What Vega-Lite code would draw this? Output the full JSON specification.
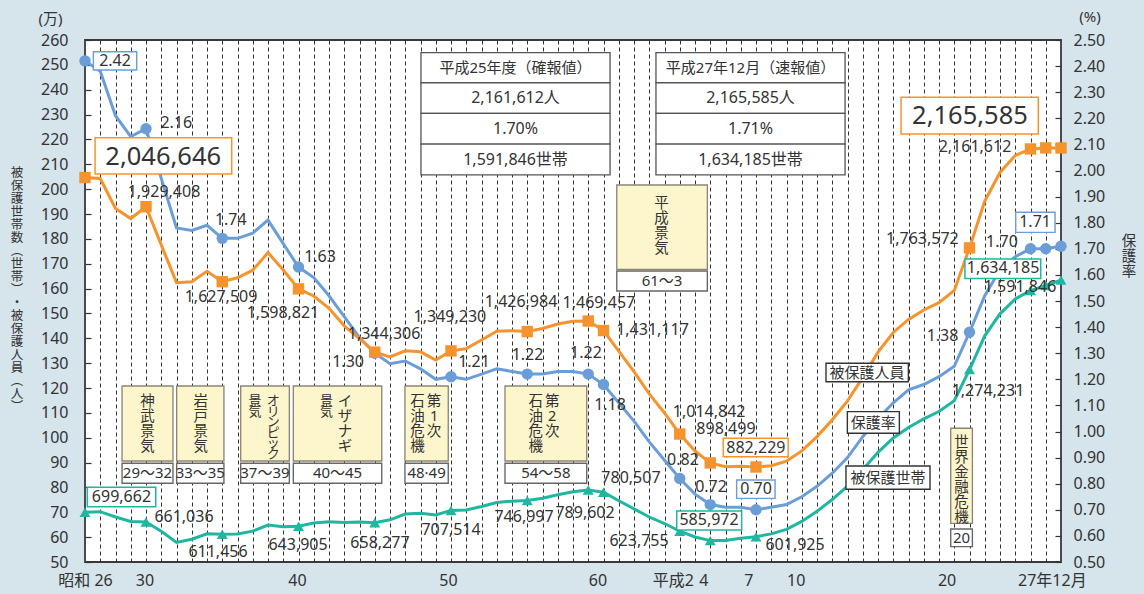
{
  "$schema": "https://vega.github.io/schema/vega-lite/v6.json",
  "width": 976,
  "height": 522,
  "autosize": {"type": "none"},
  "padding": {"left": 85, "top": 40, "right": 83, "bottom": 32},
  "background": "#d6e4ec",
  "config": {
    "font": "Noto Sans, Noto Sans CJK JP",
    "view": {"stroke": "#3a3a3a", "strokeWidth": 1.8, "fill": "#ffffff"},
    "axis": {"labelOverlap": false, "labelFlush": false, "labelBound": false},
    "axisY": {"labelOverlap": false},
    "axisLeft": {"labelOverlap": false},
    "text": {"color": "#333333", "font": "Noto Sans, Noto Sans CJK JP"}
  },
  "datasets": {
    "series": [
      {"year":1951,"persons":204.66,"rate":2.42,"households":69.97},
      {"year":1952,"persons":204.26,"rate":2.38,"households":70.25},
      {"year":1953,"persons":192.21,"rate":2.21,"households":68.09},
      {"year":1954,"persons":188.17,"rate":2.13,"households":66.28},
      {"year":1955,"persons":192.94,"rate":2.16,"households":66.10},
      {"year":1956,"persons":177.60,"rate":1.97,"households":62.35},
      {"year":1957,"persons":162.37,"rate":1.78,"households":57.90},
      {"year":1958,"persons":162.76,"rate":1.77,"households":59.14},
      {"year":1959,"persons":166.92,"rate":1.79,"households":61.35},
      {"year":1960,"persons":162.75,"rate":1.74,"households":61.15},
      {"year":1961,"persons":164.34,"rate":1.74,"households":61.27},
      {"year":1962,"persons":167.40,"rate":1.76,"households":62.40},
      {"year":1963,"persons":174.46,"rate":1.81,"households":64.87},
      {"year":1964,"persons":167.47,"rate":1.72,"households":64.19},
      {"year":1965,"persons":159.88,"rate":1.63,"households":64.39},
      {"year":1966,"persons":157.01,"rate":1.59,"households":65.72},
      {"year":1967,"persons":152.07,"rate":1.52,"households":66.16},
      {"year":1968,"persons":145.00,"rate":1.44,"households":65.91},
      {"year":1969,"persons":139.87,"rate":1.36,"households":66.05},
      {"year":1970,"persons":134.43,"rate":1.30,"households":65.83},
      {"year":1971,"persons":132.52,"rate":1.26,"households":66.97},
      {"year":1972,"persons":134.98,"rate":1.27,"households":69.27},
      {"year":1973,"persons":134.55,"rate":1.24,"households":69.65},
      {"year":1974,"persons":131.23,"rate":1.20,"households":68.90},
      {"year":1975,"persons":134.92,"rate":1.21,"households":70.75},
      {"year":1976,"persons":135.83,"rate":1.20,"households":70.96},
      {"year":1977,"persons":139.31,"rate":1.22,"households":72.36},
      {"year":1978,"persons":142.83,"rate":1.24,"households":73.92},
      {"year":1979,"persons":143.05,"rate":1.23,"households":74.48},
      {"year":1980,"persons":142.70,"rate":1.22,"households":74.70},
      {"year":1981,"persons":143.92,"rate":1.22,"households":75.67},
      {"year":1982,"persons":145.74,"rate":1.23,"households":77.04},
      {"year":1983,"persons":146.82,"rate":1.23,"households":78.23},
      {"year":1984,"persons":146.95,"rate":1.22,"households":78.96},
      {"year":1985,"persons":143.11,"rate":1.18,"households":78.05},
      {"year":1986,"persons":134.82,"rate":1.11,"households":74.64},
      {"year":1987,"persons":126.61,"rate":1.04,"households":71.38},
      {"year":1988,"persons":117.63,"rate":0.96,"households":68.10},
      {"year":1989,"persons":109.95,"rate":0.89,"households":65.49},
      {"year":1990,"persons":101.48,"rate":0.82,"households":62.38},
      {"year":1991,"persons":94.64,"rate":0.76,"households":60.07},
      {"year":1992,"persons":89.85,"rate":0.72,"households":58.60},
      {"year":1993,"persons":88.31,"rate":0.71,"households":58.61},
      {"year":1994,"persons":88.49,"rate":0.71,"households":59.54},
      {"year":1995,"persons":88.22,"rate":0.70,"households":60.19},
      {"year":1996,"persons":88.75,"rate":0.71,"households":61.31},
      {"year":1997,"persons":90.56,"rate":0.72,"households":63.15},
      {"year":1998,"persons":94.70,"rate":0.75,"households":66.31},
      {"year":1999,"persons":100.45,"rate":0.79,"households":70.41},
      {"year":2000,"persons":107.22,"rate":0.84,"households":75.13},
      {"year":2001,"persons":114.81,"rate":0.90,"households":80.52},
      {"year":2002,"persons":124.27,"rate":0.98,"households":87.09},
      {"year":2003,"persons":134.43,"rate":1.05,"households":94.13},
      {"year":2004,"persons":142.34,"rate":1.11,"households":99.89},
      {"year":2005,"persons":147.58,"rate":1.16,"households":104.15},
      {"year":2006,"persons":151.39,"rate":1.18,"households":107.58},
      {"year":2007,"persons":154.33,"rate":1.21,"households":110.53},
      {"year":2008,"persons":159.26,"rate":1.25,"households":114.88},
      {"year":2009,"persons":176.36,"rate":1.38,"households":127.42},
      {"year":2010,"persons":195.21,"rate":1.52,"households":141.00},
      {"year":2011,"persons":206.72,"rate":1.62,"households":149.84},
      {"year":2012,"persons":213.57,"rate":1.67,"households":155.85},
      {"year":2013,"persons":216.16,"rate":1.70,"households":159.18},
      {"year":2014,"persons":216.59,"rate":1.70,"households":161.23},
      {"year":2015,"persons":216.56,"rate":1.71,"households":163.42}
    ],
    "boxes": [
      {"x":1951.55,"x2":1954.39,"v":247.9,"v2":255.3,"kind":"rate"},
      {"x":1993.73,"x2":1996.25,"v":75.6,"v2":83.0,"kind":"rate"},
      {"x":2012.03,"x2":2014.61,"v":182.6,"v2":190.7,"kind":"rate"},
      {"x":1951.66,"x2":1960.62,"v":206.1,"v2":220.7,"kind":"persons"},
      {"x":1992.85,"x2":1997.11,"v":92.36,"v2":99.77,"kind":"persons"},
      {"x":2004.51,"x2":2013.51,"v":222.2,"v2":236.95,"kind":"persons"},
      {"x":1951.15,"x2":1955.64,"v":72.25,"v2":80.05,"kind":"households"},
      {"x":1989.8,"x2":1994.06,"v":62.9,"v2":70.5,"kind":"households"},
      {"x":2008.7,"x2":2013.67,"v":164.1,"v2":171.9,"kind":"households"},
      {"x":1999.59,"x2":2004.99,"v":122.53,"v2":129.93,"kind":"legend"},
      {"x":2000.99,"x2":2004.4,"v":101.8,"v2":110.5,"kind":"legend"},
      {"x":2000.9,"x2":2006.41,"v":79.25,"v2":88.6,"kind":"legend"},
      {"x":1953.43,"x2":1956.77,"v":90.63,"v2":120.8,"kind":"boom"},
      {"x":1957.01,"x2":1960.11,"v":90.63,"v2":120.8,"kind":"boom"},
      {"x":1961.21,"x2":1964.40,"v":90.63,"v2":120.8,"kind":"boom"},
      {"x":1964.66,"x2":1970.46,"v":90.63,"v2":120.8,"kind":"boom"},
      {"x":1971.98,"x2":1974.82,"v":90.63,"v2":120.8,"kind":"boom"},
      {"x":1978.54,"x2":1983.90,"v":90.63,"v2":120.8,"kind":"boom"},
      {"x":1985.87,"x2":1991.81,"v":167.75,"v2":201.67,"kind":"boom"},
      {"x":2007.77,"x2":2009.19,"v":65.57,"v2":103.8,"kind":"boom"},
      {"x":1953.43,"x2":1956.77,"v":81.66,"v2":89.71,"kind":"period"},
      {"x":1957.01,"x2":1960.11,"v":81.66,"v2":89.71,"kind":"period"},
      {"x":1961.21,"x2":1964.40,"v":81.66,"v2":89.71,"kind":"period"},
      {"x":1964.66,"x2":1970.46,"v":81.66,"v2":89.71,"kind":"period"},
      {"x":1971.98,"x2":1974.82,"v":81.66,"v2":89.71,"kind":"period"},
      {"x":1978.54,"x2":1983.90,"v":81.66,"v2":89.71,"kind":"period"},
      {"x":1985.87,"x2":1991.81,"v":159.02,"v2":167.07,"kind":"period"},
      {"x":2007.77,"x2":2009.19,"v":56.16,"v2":63.28,"kind":"period"},
      {"x":1973.03,"x2":1985.43,"v":242.8,"v2":254.9,"kind":"table"},
      {"x":1973.03,"x2":1985.43,"v":230.5,"v2":242.8,"kind":"table"},
      {"x":1973.03,"x2":1985.43,"v":218.15,"v2":230.5,"kind":"table"},
      {"x":1973.03,"x2":1985.43,"v":205.7,"v2":218.15,"kind":"table"},
      {"x":1988.44,"x2":2000.84,"v":242.8,"v2":254.9,"kind":"table"},
      {"x":1988.44,"x2":2000.84,"v":230.5,"v2":242.8,"kind":"table"},
      {"x":1988.44,"x2":2000.84,"v":218.15,"v2":230.5,"kind":"table"},
      {"x":1988.44,"x2":2000.84,"v":205.7,"v2":218.15,"kind":"table"}
    ],
    "lab16": [
      {"x":1952.97,"v":251.55,"t":"2.42"},
      {"x":1956.99,"v":226.7,"t":"2.16"},
      {"x":1960.56,"v":187.6,"t":"1.74"},
      {"x":1966.41,"v":172.8,"t":"1.63"},
      {"x":1968.25,"v":130.6,"t":"1.30"},
      {"x":1976.51,"v":130.46,"t":"1.21"},
      {"x":1980.02,"v":133.3,"t":"1.22"},
      {"x":1983.85,"v":134.1,"t":"1.22"},
      {"x":1985.43,"v":113.2,"t":"1.18"},
      {"x":1990.21,"v":91.0,"t":"0.82"},
      {"x":1992.05,"v":80.2,"t":"0.72"},
      {"x":1995.0,"v":79.4,"t":"0.70"},
      {"x":2007.23,"v":140.9,"t":"1.38"},
      {"x":2011.13,"v":178.7,"t":"1.70"},
      {"x":2013.3,"v":186.8,"t":"1.71"},
      {"x":1956.18,"v":199.0,"t":"1,929,408"},
      {"x":1959.92,"v":156.6,"t":"1,627,509"},
      {"x":1963.98,"v":150.2,"t":"1,598,821"},
      {"x":1970.61,"v":141.7,"t":"1,344,306"},
      {"x":1974.93,"v":148.6,"t":"1,349,230"},
      {"x":1979.59,"v":154.6,"t":"1,426,984"},
      {"x":1984.7,"v":154.2,"t":"1,469,457"},
      {"x":1988.21,"v":143.3,"t":"1,431,117"},
      {"x":1991.93,"v":110.45,"t":"1,014,842"},
      {"x":1993.03,"v":103.5,"t":"898,499"},
      {"x":1994.99,"v":96.06,"t":"882,229"},
      {"x":2005.91,"v":180.0,"t":"1,763,572"},
      {"x":2009.36,"v":217.0,"t":"2,161,612"},
      {"x":1953.39,"v":76.15,"t":"699,662"},
      {"x":1957.49,"v":68.1,"t":"661,036"},
      {"x":1959.72,"v":54.0,"t":"611,456"},
      {"x":1964.97,"v":56.8,"t":"643,905"},
      {"x":1970.34,"v":57.6,"t":"658,277"},
      {"x":1975.0,"v":62.9,"t":"707,514"},
      {"x":1979.79,"v":68.1,"t":"746,997"},
      {"x":1983.79,"v":69.7,"t":"789,602"},
      {"x":1986.8,"v":83.8,"t":"780,507"},
      {"x":1987.33,"v":58.45,"t":"623,755"},
      {"x":1991.92,"v":66.7,"t":"585,972"},
      {"x":1997.56,"v":56.8,"t":"601,925"},
      {"x":2010.21,"v":118.8,"t":"1,274,231"},
      {"x":2012.31,"v":160.6,"t":"1,591,846"},
      {"x":2011.2,"v":168.1,"t":"1,634,185"},
      {"x":1979.23,"v":236.67,"t":"2,161,612人"},
      {"x":1979.23,"v":224.3,"t":"1.70%"},
      {"x":1979.23,"v":211.9,"t":"1,591,846世帯"},
      {"x":1994.64,"v":236.67,"t":"2,165,585人"},
      {"x":1994.64,"v":224.3,"t":"1.71%"},
      {"x":1994.64,"v":211.9,"t":"1,634,185世帯"}
    ],
    "lab15": [
      {"x":1979.23,"v":248.85,"t":"平成25年度（確報値）"},
      {"x":1994.64,"v":248.85,"t":"平成27年12月（速報値）"},
      {"x":2002.28,"v":126.2,"t":"被保護人員"},
      {"x":2002.69,"v":106.1,"t":"保護率"},
      {"x":2003.66,"v":83.9,"t":"被保護世帯"},
      {"x":1955.1,"v":85.69,"t":"29〜32"},
      {"x":1958.56,"v":85.69,"t":"33〜35"},
      {"x":1962.8,"v":85.69,"t":"37〜39"},
      {"x":1967.56,"v":85.69,"t":"40〜45"},
      {"x":1973.4,"v":85.69,"t":"48·49"},
      {"x":1981.22,"v":85.69,"t":"54〜58"},
      {"x":1988.84,"v":163.05,"t":"61〜3"},
      {"x":2008.48,"v":59.72,"t":"20"},
      {"x":1948.74,"v":268.45,"t":"(万)"},
      {"x":2016.9,"v":269.25,"t":"(%)"}
    ],
    "big": [
      {"x":1956.13,"v":213.1,"t":"2,046,646"},
      {"x":2009.03,"v":229.4,"t":"2,165,585"}
    ],
    "vertA": [
      {"x":1955.1,"v":114.5,"t":"神\n武\n景\n気"},
      {"x":1958.59,"v":114.5,"t":"岩\n戸\n景\n気"},
      {"x":1968.05,"v":114.4,"t":"イ\nザ\nナ\nギ"},
      {"x":1972.80,"v":114.5,"t":"石\n油\n危\n機"},
      {"x":1973.89,"v":114.5,"t":"第\n1\n次"},
      {"x":1980.55,"v":114.5,"t":"石\n油\n危\n機"},
      {"x":1981.64,"v":114.5,"t":"第\n2\n次"},
      {"x":1988.81,"v":194.0,"t":"平\n成\n景\n気"},
      {"x":2008.47,"v":97.9,"t":"世\n界\n金\n融\n危\n機"},
      {"x":2019.46,"v":178.9,"t":"保\n護\n率"}
    ],
    "vertB": [
      {"x":1963.35,"v":114.57,"t":"オ\nリ\nン\nピ\nッ\nク"},
      {"x":1962.15,"v":114.77,"t":"景\n気"},
      {"x":1966.84,"v":114.77,"t":"景\n気"}
    ],
    "vertC": [
      {"x":1946.54,"v":206.5,"t":"被\n保\n護\n世\n帯\n数\n︵\n世\n帯\n︶\n・\n被\n保\n護\n人\n員\n︵\n人\n︶"}
    ]
  },
  "layer": [
    {
      "data": {"name": "series"},
      "encoding": {
        "x": {"field": "year", "type": "quantitative", "title": null,
          "scale": {"domain": [1951, 2015], "nice": false, "zero": false},
          "axis": {"orient": "top", "values": [1952,1953,1954,1955,1956,1957,1958,1959,1960,1961,1962,1963,1964,1965,1966,1967,1968,1969,1970,1971,1972,1973,1974,1975,1976,1977,1978,1979,1980,1981,1982,1983,1984,1985,1986,1987,1988,1989,1990,1991,1992,1993,1994,1995,1996,1997,1998,1999,2000,2001,2002,2003,2004,2005,2006,2007,2008,2009,2010,2011,2012,2013,2014],
            "grid": true, "gridDash": [4, 3], "gridColor": "#333333", "gridWidth": 1, "gridOpacity": 1,
            "labels": false, "ticks": false, "domain": false}},
        "y": {"field": "rate", "type": "quantitative", "title": null,
          "scale": {"domain": [0.5, 2.5], "nice": false, "zero": false},
          "axis": {"orient": "right", "values": [0.5,0.6,0.7,0.8,0.9,1.0,1.1,1.2,1.3,1.4,1.5,1.6,1.7,1.8,1.9,2.0,2.1,2.2,2.3,2.4,2.5],
            "format": ".2f", "grid": false, "domain": false, "ticks": true, "tickSize": -6, "tickColor": "#333333", "tickWidth": 1.2,
            "labelOverlap": false, "labelFlush": false, "labelBound": false,
            "labelFontSize": 16, "labelColor": "#333333", "labelPadding": 18, "labelFont": "Noto Sans"}}
      },
      "layer": [
        {"mark": {"type": "line", "color": "#6b9ed8", "strokeWidth": 3}},
        {"transform": [{"filter": {"field": "year", "oneOf": [1951,1955,1960,1965,1970,1975,1980,1984,1985,1990,1992,1995,2009,2013,2014,2015]}}],
         "mark": {"type": "point", "shape": "circle", "filled": true, "opacity": 1, "size": 130, "color": "#6b9ed8"}}
      ]
    },
    {
      "encoding": {
        "y": {"field": "persons", "type": "quantitative", "title": null,
          "scale": {"domain": [50, 260], "nice": false, "zero": false},
          "axis": {"orient": "left", "values": [50,60,70,80,90,100,110,120,130,140,150,160,170,180,190,200,210,220,230,240,250,260],
            "grid": false, "domain": false, "ticks": true, "tickSize": -6, "tickColor": "#333333", "tickWidth": 1.2,
            "labelOverlap": false, "labelFlush": false, "labelBound": false,
            "labelFontSize": 16, "labelColor": "#333333", "labelPadding": 23, "labelFont": "Noto Sans"}}
      },
      "layer": [
        {
          "data": {"name": "series"},
          "encoding": {
            "x": {"field": "year", "type": "quantitative", "title": null,
              "scale": {"domain": [1951, 2015], "nice": false, "zero": false},
              "axis": {"orient": "bottom", "values": [1951, 1954.9, 1964.9, 1974.8, 1984.6, 1989.55, 1991.55, 1994.5, 1997.6, 2007.5, 2014.4],
                "labelExpr": "datum.value < 1952 ? '昭和 26' : datum.value < 1960 ? '30' : datum.value < 1970 ? '40' : datum.value < 1980 ? '50' : datum.value < 1987 ? '60' : datum.value < 1991 ? '平成2' : datum.value < 1993 ? '4' : datum.value < 1996 ? '7' : datum.value < 2000 ? '10' : datum.value < 2010 ? '20' : '27年12月'",
                "grid": false, "ticks": false, "domain": false, "labelPadding": 10, "labelFontSize": 16, "labelColor": "#333333",
                "labelOverlap": false, "labelFlush": false, "labelBound": false}}
          },
          "layer": [
            {"mark": {"type": "line", "color": "#f7932d", "strokeWidth": 3}},
            {"transform": [{"filter": {"field": "year", "oneOf": [1951,1955,1960,1965,1970,1975,1980,1984,1985,1990,1992,1995,2009,2013,2014,2015]}}],
             "mark": {"type": "point", "shape": "square", "filled": true, "opacity": 1, "size": 130, "color": "#f7932d"}}
          ]
        },
        {
          "data": {"name": "series"},
          "encoding": {
            "x": {"field": "year", "type": "quantitative", "title": null, "scale": {"domain": [1951, 2015], "nice": false, "zero": false}},
            "y": {"field": "households", "type": "quantitative", "title": null, "scale": {"domain": [50, 260], "nice": false, "zero": false}}
          },
          "layer": [
            {"mark": {"type": "line", "color": "#1fb7a0", "strokeWidth": 3}},
            {"transform": [{"filter": {"field": "year", "oneOf": [1951,1955,1960,1965,1970,1975,1980,1984,1985,1990,1992,1995,2009,2013,2014,2015]}}],
             "mark": {"type": "point", "shape": "triangle-up", "filled": true, "opacity": 1, "size": 120, "color": "#1fb7a0"}}
          ]
        },
        {
          "data": {"name": "boxes"},
          "mark": {"type": "rect"},
          "encoding": {
            "x": {"field": "x", "type": "quantitative", "title": null, "scale": {"domain": [1951, 2015], "nice": false, "zero": false}},
            "x2": {"field": "x2"},
            "y": {"field": "v", "type": "quantitative", "title": null, "scale": {"domain": [50, 260], "nice": false, "zero": false}},
            "y2": {"field": "v2"},
            "fill": {"field": "kind", "type": "nominal", "legend": null,
              "scale": {"domain": ["table","boom","period","legend","rate","persons","households"],
                        "range": ["#ffffff","#fdf6cd","#ffffff","#ffffff","#ffffff","#ffffff","#ffffff"]}},
            "stroke": {"field": "kind", "type": "nominal", "legend": null,
              "scale": {"domain": ["table","boom","period","legend","rate","persons","households"],
                        "range": ["#555555","#8a8676","#666666","#333333","#6b9ed8","#f7932d","#1fb7a0"]}},
            "strokeWidth": {"field": "kind", "type": "nominal", "legend": null,
              "scale": {"domain": ["table","boom","period","legend","rate","persons","households"],
                        "range": [1.3, 1.5, 1.3, 1.3, 2, 2, 2]}}
          }
        },
        {
          "data": {"name": "lab16"},
          "mark": {"type": "text", "fontSize": 16, "align": "center", "baseline": "middle", "color": "#333333"},
          "encoding": {
            "x": {"field": "x", "type": "quantitative", "title": null, "scale": {"domain": [1951, 2015], "nice": false, "zero": false}},
            "y": {"field": "v", "type": "quantitative", "title": null, "scale": {"domain": [50, 260], "nice": false, "zero": false}},
            "text": {"field": "t", "type": "nominal"}
          }
        },
        {
          "data": {"name": "lab15"},
          "mark": {"type": "text", "fontSize": 15, "align": "center", "baseline": "middle", "color": "#333333"},
          "encoding": {
            "x": {"field": "x", "type": "quantitative", "title": null, "scale": {"domain": [1951, 2015], "nice": false, "zero": false}},
            "y": {"field": "v", "type": "quantitative", "title": null, "scale": {"domain": [50, 260], "nice": false, "zero": false}},
            "text": {"field": "t", "type": "nominal"}
          }
        },
        {
          "data": {"name": "big"},
          "mark": {"type": "text", "fontSize": 25.5, "align": "center", "baseline": "middle", "color": "#333333"},
          "encoding": {
            "x": {"field": "x", "type": "quantitative", "title": null, "scale": {"domain": [1951, 2015], "nice": false, "zero": false}},
            "y": {"field": "v", "type": "quantitative", "title": null, "scale": {"domain": [50, 260], "nice": false, "zero": false}},
            "text": {"field": "t", "type": "nominal"}
          }
        },
        {
          "data": {"name": "vertA"},
          "mark": {"type": "text", "fontSize": 14.5, "lineHeight": 15, "lineBreak": "\n", "align": "center", "baseline": "middle", "color": "#333333"},
          "encoding": {
            "x": {"field": "x", "type": "quantitative", "title": null, "scale": {"domain": [1951, 2015], "nice": false, "zero": false}},
            "y": {"field": "v", "type": "quantitative", "title": null, "scale": {"domain": [50, 260], "nice": false, "zero": false}},
            "text": {"field": "t", "type": "nominal"}
          }
        },
        {
          "data": {"name": "vertB"},
          "mark": {"type": "text", "fontSize": 13, "lineHeight": 10.5, "lineBreak": "\n", "align": "center", "baseline": "middle", "color": "#333333"},
          "encoding": {
            "x": {"field": "x", "type": "quantitative", "title": null, "scale": {"domain": [1951, 2015], "nice": false, "zero": false}},
            "y": {"field": "v", "type": "quantitative", "title": null, "scale": {"domain": [50, 260], "nice": false, "zero": false}},
            "text": {"field": "t", "type": "nominal"}
          }
        },
        {
          "data": {"name": "vertC"},
          "mark": {"type": "text", "fontSize": 12.5, "lineHeight": 13, "lineBreak": "\n", "align": "center", "baseline": "middle", "color": "#333333"},
          "encoding": {
            "x": {"field": "x", "type": "quantitative", "title": null, "scale": {"domain": [1951, 2015], "nice": false, "zero": false}},
            "y": {"field": "v", "type": "quantitative", "title": null, "scale": {"domain": [50, 260], "nice": false, "zero": false}},
            "text": {"field": "t", "type": "nominal"}
          }
        }
      ]
    }
  ],
  "resolve": {"scale": {"y": "independent"}, "axis": {"x": "independent"}}
}
